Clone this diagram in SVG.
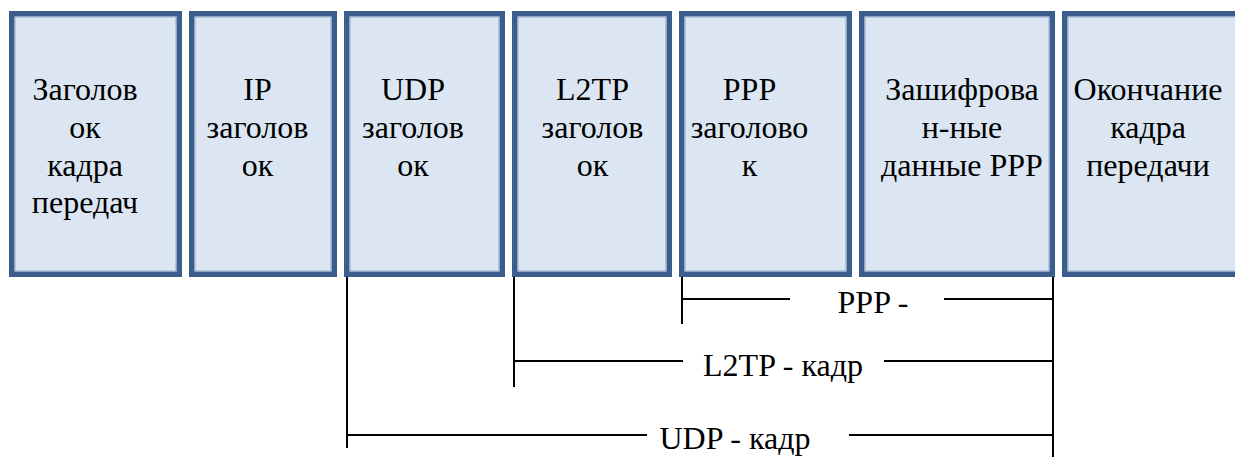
<svg xmlns="http://www.w3.org/2000/svg" width="1235" height="457" viewBox="0 0 1235 457">
  <style>
    .box { fill: #dce6f2; stroke: #3b5e8c; stroke-width: 5.5; }
    .edge { fill: none; stroke: #93abcb; stroke-width: 1; }
    .lbl { font-family: 'Liberation Serif', 'Times New Roman', 'DejaVu Serif', serif; font-size: 32px; fill: #000; text-anchor: middle; }
    .span { font-family: 'Liberation Serif', 'Times New Roman', 'DejaVu Serif', serif; font-size: 32px; fill: #000; text-anchor: middle; }
    .ln { stroke: #000; stroke-width: 2; fill: none; }
  </style>
  <rect width="1235" height="457" fill="#fff"/>

  <g id="frame-header">
    <rect class="box" x="11.75" y="13.75" width="167.5" height="260.5"/>
    <rect class="edge" x="15" y="17" width="161" height="254"/>
    <text class="lbl" x="85" y="100">Заголов</text>
    <text class="lbl" x="85" y="138">ок</text>
    <text class="lbl" x="85" y="176">кадра</text>
    <text class="lbl" x="85" y="213">передач</text>
  </g>

  <g id="ip-header">
    <rect class="box" x="191.75" y="13.75" width="142.5" height="260.5"/>
    <rect class="edge" x="195" y="17" width="136" height="254"/>
    <text class="lbl" x="257.5" y="100">IP</text>
    <text class="lbl" x="257.5" y="138">заголов</text>
    <text class="lbl" x="257.5" y="176">ок</text>
  </g>

  <g id="udp-header">
    <rect class="box" x="346.75" y="13.75" width="155.5" height="260.5"/>
    <rect class="edge" x="350" y="17" width="149" height="254"/>
    <text class="lbl" x="413" y="100">UDP</text>
    <text class="lbl" x="413" y="138">заголов</text>
    <text class="lbl" x="413" y="176">ок</text>
  </g>

  <g id="l2tp-header">
    <rect class="box" x="514.75" y="13.75" width="154.5" height="260.5"/>
    <rect class="edge" x="518" y="17" width="148" height="254"/>
    <text class="lbl" x="592.5" y="100">L2TP</text>
    <text class="lbl" x="592.5" y="138">заголов</text>
    <text class="lbl" x="592.5" y="176">ок</text>
  </g>

  <g id="ppp-header">
    <rect class="box" x="681.75" y="13.75" width="167.5" height="260.5"/>
    <rect class="edge" x="685" y="17" width="161" height="254"/>
    <text class="lbl" x="749.5" y="100">PPP</text>
    <text class="lbl" x="749.5" y="138">заголово</text>
    <text class="lbl" x="749.5" y="176">к</text>
  </g>

  <g id="ppp-data">
    <rect class="box" x="861.75" y="13.75" width="190.5" height="260.5"/>
    <rect class="edge" x="865" y="17" width="184" height="254"/>
    <text class="lbl" x="962" y="100">Зашифрова</text>
    <text class="lbl" x="962" y="138">н-ные</text>
    <text class="lbl" x="962" y="176">данные PPP</text>
  </g>

  <g id="frame-trailer">
    <rect class="box" x="1064.75" y="13.75" width="180" height="260.5"/>
    <rect class="edge" x="1068" y="17" width="180" height="254"/>
    <text class="lbl" x="1148" y="100">Окончание</text>
    <text class="lbl" x="1148" y="138">кадра</text>
    <text class="lbl" x="1148" y="176">передачи</text>
  </g>

  <g id="connectors">
    <!-- common right boundary -->
    <line class="ln" x1="1053" y1="277" x2="1053" y2="457"/>
    <!-- PPP frame span -->
    <line class="ln" x1="682" y1="277" x2="682" y2="324"/>
    <line class="ln" x1="682" y1="299" x2="790" y2="299"/>
    <line class="ln" x1="944" y1="299" x2="1053" y2="299"/>
    <!-- L2TP frame span -->
    <line class="ln" x1="514" y1="277" x2="514" y2="387"/>
    <line class="ln" x1="514" y1="361" x2="683" y2="361"/>
    <line class="ln" x1="884" y1="361" x2="1053" y2="361"/>
    <!-- UDP frame span -->
    <line class="ln" x1="347" y1="277" x2="347" y2="448"/>
    <line class="ln" x1="347" y1="435" x2="647" y2="435"/>
    <line class="ln" x1="849" y1="435" x2="1053" y2="435"/>
  </g>

  <g id="span-labels">
    <text class="span" x="873" y="313">PPP -</text>
    <text class="span" x="783" y="376">L2TP - кадр</text>
    <text class="span" x="735" y="449">UDP - кадр</text>
  </g>
</svg>
